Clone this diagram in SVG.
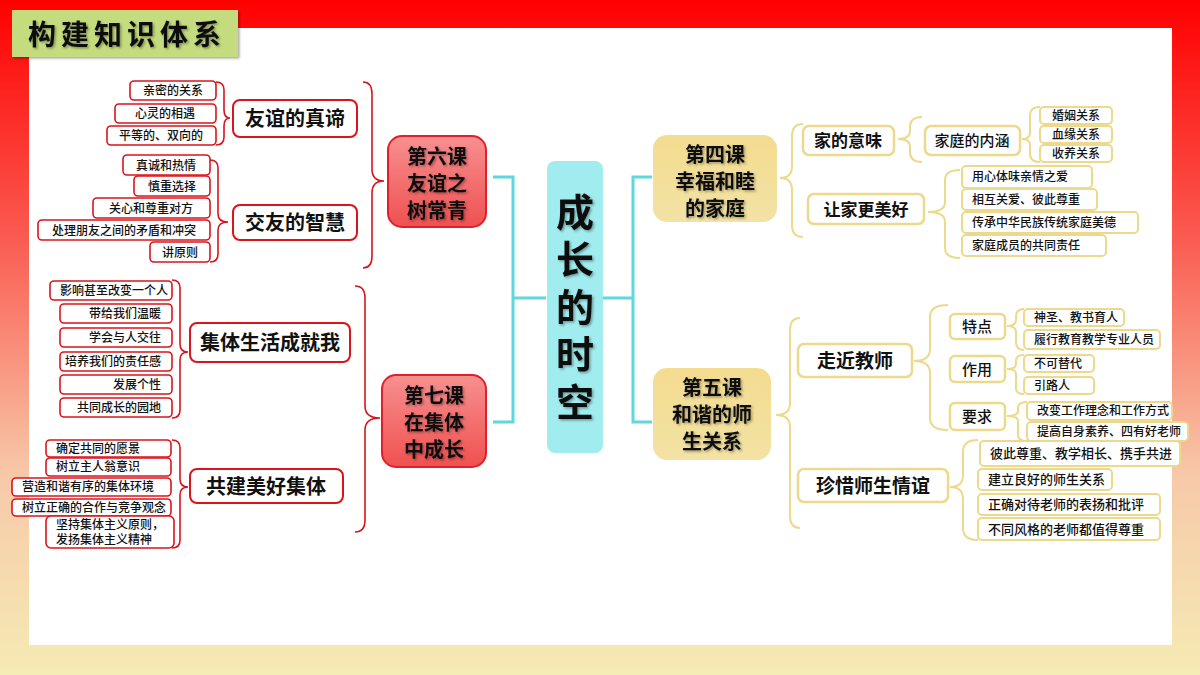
<svg xmlns="http://www.w3.org/2000/svg" width="1200" height="675" viewBox="0 0 1200 675">
<defs>
<linearGradient id="bg" x1="0" y1="0" x2="0" y2="1">
<stop offset="0" stop-color="#ff0000"/><stop offset="0.35" stop-color="#fa5a50"/><stop offset="0.7" stop-color="#f7c8a8"/><stop offset="1" stop-color="#f5ebb4"/>
</linearGradient>
<linearGradient id="redn" x1="0" y1="0" x2="0" y2="1">
<stop offset="0" stop-color="#f79090"/><stop offset="1" stop-color="#f05050"/>
</linearGradient>
<linearGradient id="yeln" x1="0" y1="0" x2="0" y2="1">
<stop offset="0" stop-color="#f4dc90"/><stop offset="1" stop-color="#f2e2a4"/>
</linearGradient>
<filter id="sh" x="-10%" y="-10%" width="130%" height="130%"><feDropShadow dx="1.5" dy="1.5" stdDeviation="0.8" flood-color="#000" flood-opacity="0.35"/></filter>
</defs>
<style>
text{font-family:"Noto Sans CJK SC","Noto Sans",sans-serif;fill:#111}
.rl{fill:#fff;stroke:#d9141c;stroke-width:1.6}
.yl{fill:#fff;stroke:#ecd98c;stroke-width:2}
.rm{fill:#fff;stroke:#d9141c;stroke-width:2}
.ym{fill:#fff;stroke:#ecd98c;stroke-width:2.5}
.rb{fill:none;stroke:#d9141c;stroke-width:1.6}
.yb{fill:none;stroke:#ecd98c;stroke-width:2}
.cy{fill:none;stroke:#5ed8dc;stroke-width:3}
.s{font-size:12px;font-weight:500}
.m{font-size:20px;font-weight:700}
.l{font-size:20px;font-weight:700}
</style>
<rect width="1200" height="675" fill="url(#bg)"/>
<rect x="29" y="28" width="1143" height="617" fill="#fff"/>
<g id="title"><rect x="12" y="10" width="226" height="47" fill="#c5dc7e" filter="url(#sh)"/><text x="127" y="45" text-anchor="middle" font-size="28" font-weight="700" letter-spacing="5" filter="url(#sh)">构建知识体系</text></g>

<g id="connectors">
<path class="cy" d="M493,177 H513 V422 H493 M513,298 H546 M603,298 H633 M652,177 H633 V422 H652"/>
<path class="rb" d="M216,82 Q224,82 224,90 L224,110 Q224,118 230,118 Q224,118 224,126 L224,137 Q224,145 216,145"/>
<path class="rb" d="M210,160 Q218,160 218,168 L218,214 Q218,222 228,222 Q218,222 218,230 L218,254 Q218,262 210,262"/>
<path class="rb" d="M363,82 Q372,82 372,94 L372,169 Q372,181 384,181 Q372,181 372,193 L372,256 Q372,268 363,268"/>
<path class="rb" d="M172,280 Q180,280 180,288 L180,344 Q180,352 188,352 Q180,352 180,360 L180,410 Q180,418 172,418"/>
<path class="rb" d="M172,440 Q180,440 180,448 L180,479 Q180,487 188,487 Q180,487 180,495 L180,540 Q180,548 172,548"/>
<path class="rb" d="M355,286 Q365,286 365,298 L365,406 Q365,418 380,418 Q365,418 365,430 L365,520 Q365,532 355,532"/>
<path class="yb" d="M803,124 Q792,124 792,136 L792,166 Q792,178 780,178 Q792,178 792,190 L792,225 Q792,237 803,237"/>
<path class="yb" d="M922,117 Q910,117 910,127 L910,131 Q910,139 898,139 Q910,139 910,147 L910,152 Q910,162 922,162"/>
<path class="yb" d="M1040,107 Q1030,107 1030,115 L1030,133 Q1030,139 1022,139 Q1030,139 1030,145 L1030,154 Q1030,162 1040,162"/>
<path class="yb" d="M960,170 Q945,170 945,180 L945,202 Q945,212 928,212 Q945,212 945,222 L945,248 Q945,258 960,258"/>
<path class="yb" d="M800,318 Q790,318 790,330 L790,403 Q790,415 776,415 Q790,415 790,427 L790,516 Q790,528 800,528"/>
<path class="yb" d="M948,305 Q930,305 930,317 L930,349 Q930,361 914,361 Q930,361 930,373 L930,418 Q930,430 948,430"/>
<path class="yb" d="M1024,309 Q1016,309 1016,317 L1016,320 Q1016,326 1007,326 Q1016,326 1016,332 L1016,342 Q1016,350 1024,350"/>
<path class="yb" d="M1024,355 Q1016,355 1016,361 L1016,364 Q1016,369 1007,369 Q1016,369 1016,374 L1016,388 Q1016,394 1024,394"/>
<path class="yb" d="M1027,402 Q1018,402 1018,408 L1018,411 Q1018,416 1007,416 Q1018,416 1018,421 L1018,435 Q1018,441 1027,441"/>
<path class="yb" d="M978,440 Q963,440 963,452 L963,475 Q963,487 950,487 Q963,487 963,499 L963,528 Q963,540 978,540"/>
</g>

<g id="center"><rect x="547" y="161" width="56" height="292" rx="8" fill="#a0ecee"/>
<g font-size="38" font-weight="700" text-anchor="middle" filter="url(#sh)"><text x="575" y="226">成</text><text x="575" y="273">长</text><text x="575" y="321">的</text><text x="575" y="368">时</text><text x="575" y="416">空</text></g></g>

<g id="l6"><rect x="388" y="136" width="98" height="91" rx="14" fill="url(#redn)" stroke="#e0202a" stroke-width="2"/>
<g text-anchor="middle" filter="url(#sh)"><text x="437" y="164" class="l">第六课</text><text x="437" y="191" class="l">友谊之</text><text x="437" y="218" class="l">树常青</text></g></g>
<g id="l7"><rect x="382" y="375" width="104" height="92" rx="14" fill="url(#redn)" stroke="#e0202a" stroke-width="2"/>
<g text-anchor="middle" filter="url(#sh)"><text x="434" y="403" class="l">第七课</text><text x="434" y="430" class="l">在集体</text><text x="434" y="457" class="l">中成长</text></g></g>
<g id="l4"><rect x="653" y="135" width="124" height="87" rx="14" fill="url(#yeln)"/>
<g text-anchor="middle" filter="url(#sh)"><text x="715" y="162" class="l">第四课</text><text x="715" y="189" class="l">幸福和睦</text><text x="715" y="216" class="l">的家庭</text></g></g>
<g id="l5"><rect x="653" y="368" width="118" height="92" rx="14" fill="url(#yeln)"/>
<g text-anchor="middle" filter="url(#sh)"><text x="712" y="395" class="l">第五课</text><text x="712" y="422" class="l">和谐的师</text><text x="712" y="449" class="l">生关系</text></g></g>

<g id="n-yy"><rect class="rm" x="233" y="100" width="124" height="37" rx="7"/><text x="295" y="126" class="m" text-anchor="middle">友谊的真谛</text></g>
<g id="n-jy"><rect class="rm" x="233" y="205" width="124" height="35" rx="7"/><text x="295" y="230" class="m" text-anchor="middle">交友的智慧</text></g>
<g id="n-jt"><rect class="rm" x="190" y="323" width="160" height="39" rx="7"/><text x="270" y="350" class="m" text-anchor="middle">集体生活成就我</text></g>
<g id="n-gj"><rect class="rm" x="190" y="469" width="153" height="34" rx="7"/><text x="266" y="494" class="m" text-anchor="middle">共建美好集体</text></g>

<g id="r-leaves" class="s">
<g id="a1"><rect class="rl" x="130" y="81" width="86" height="19" rx="4"/><text x="173" y="95" text-anchor="middle">亲密的关系</text></g>
<g id="a2"><rect class="rl" x="115" y="104" width="101" height="19" rx="4"/><text x="165" y="118" text-anchor="middle">心灵的相遇</text></g>
<g id="a3"><rect class="rl" x="107" y="126" width="109" height="19" rx="4"/><text x="161" y="140" text-anchor="middle">平等的、双向的</text></g>
<g id="b1"><rect class="rl" x="123" y="155" width="87" height="20" rx="4"/><text x="166" y="170" text-anchor="middle">真诚和热情</text></g>
<g id="b2"><rect class="rl" x="134" y="176" width="76" height="20" rx="4"/><text x="172" y="191" text-anchor="middle">慎重选择</text></g>
<g id="b3"><rect class="rl" x="93" y="198" width="117" height="20" rx="4"/><text x="151" y="213" text-anchor="middle">关心和尊重对方</text></g>
<g id="b4"><rect class="rl" x="38" y="220" width="172" height="20" rx="4"/><text x="124" y="235" text-anchor="middle">处理朋友之间的矛盾和冲突</text></g>
<g id="b5"><rect class="rl" x="150" y="242" width="60" height="20" rx="4"/><text x="180" y="257" text-anchor="middle">讲原则</text></g>
<g id="c1"><rect class="rl" x="50" y="281" width="122" height="19" rx="4"/><text x="60" y="295">影响甚至改变一个人</text></g>
<g id="c2"><rect class="rl" x="60" y="304" width="112" height="19" rx="4"/><text x="161" y="318" text-anchor="end">带给我们温暖</text></g>
<g id="c3"><rect class="rl" x="60" y="328" width="112" height="19" rx="4"/><text x="161" y="342" text-anchor="end">学会与人交往</text></g>
<g id="c4"><rect class="rl" x="60" y="352" width="112" height="19" rx="4"/><text x="161" y="366" text-anchor="end">培养我们的责任感</text></g>
<g id="c5"><rect class="rl" x="60" y="375" width="112" height="19" rx="4"/><text x="161" y="389" text-anchor="end">发展个性</text></g>
<g id="c6"><rect class="rl" x="60" y="398" width="112" height="19" rx="4"/><text x="161" y="412" text-anchor="end">共同成长的园地</text></g>
<g id="d1"><rect class="rl" x="46" y="440" width="125" height="17" rx="4"/><text x="56" y="453">确定共同的愿景</text></g>
<g id="d2"><rect class="rl" x="46" y="458" width="125" height="18" rx="4"/><text x="56" y="471">树立主人翁意识</text></g>
<g id="d3"><rect class="rl" x="12" y="478" width="159" height="18" rx="4"/><text x="22" y="491">营造和谐有序的集体环境</text></g>
<g id="d4"><rect class="rl" x="12" y="499" width="159" height="17" rx="4"/><text x="22" y="512">树立正确的合作与竞争观念</text></g>
<g id="d5"><rect class="rl" x="46" y="516" width="128" height="32" rx="5"/><text x="56" y="529">坚持集体主义原则，</text><text x="56" y="544">发扬集体主义精神</text></g>
</g>

<g id="n-jw"><rect class="ym" x="803" y="126" width="91" height="29" rx="6"/><text x="848" y="147" class="m" text-anchor="middle" style="font-size:17px">家的意味</text></g>
<g id="n-nh"><rect class="ym" x="925" y="126" width="95" height="29" rx="6"/><text x="972" y="146" font-size="15" font-weight="500" text-anchor="middle">家庭的内涵</text></g>
<g id="n-rj"><rect class="ym" x="808" y="194" width="116" height="30" rx="6"/><text x="866" y="216" class="m" text-anchor="middle" style="font-size:17px">让家更美好</text></g>
<g id="n-zj"><rect class="ym" x="798" y="344" width="114" height="33" rx="6"/><text x="855" y="368" class="m" text-anchor="middle" style="font-size:19px">走近教师</text></g>
<g id="n-zx"><rect class="ym" x="798" y="469" width="150" height="33" rx="6"/><text x="873" y="493" class="m" text-anchor="middle" style="font-size:19px">珍惜师生情谊</text></g>
<g id="n-td"><rect class="ym" x="950" y="314" width="55" height="25" rx="5"/><text x="977" y="332" font-size="15" font-weight="500" text-anchor="middle">特点</text></g>
<g id="n-zy"><rect class="ym" x="950" y="356" width="55" height="26" rx="5"/><text x="977" y="375" font-size="15" font-weight="500" text-anchor="middle">作用</text></g>
<g id="n-yq"><rect class="ym" x="950" y="403" width="55" height="27" rx="5"/><text x="977" y="422" font-size="15" font-weight="500" text-anchor="middle">要求</text></g>

<g id="y-leaves" class="s">
<g id="e1"><rect class="yl" x="1040" y="107" width="72" height="17" rx="4"/><text x="1076" y="120" text-anchor="middle">婚姻关系</text></g>
<g id="e2"><rect class="yl" x="1040" y="126" width="72" height="17" rx="4"/><text x="1076" y="139" text-anchor="middle">血缘关系</text></g>
<g id="e3"><rect class="yl" x="1040" y="145" width="72" height="17" rx="4"/><text x="1076" y="158" text-anchor="middle">收养关系</text></g>
<g id="f1"><rect class="yl" x="962" y="166" width="130" height="22" rx="4"/><text x="972" y="181">用心体味亲情之爱</text></g>
<g id="f2"><rect class="yl" x="962" y="189" width="135" height="21" rx="4"/><text x="972" y="204">相互关爱、彼此尊重</text></g>
<g id="f3"><rect class="yl" x="962" y="212" width="176" height="21" rx="4"/><text x="972" y="227">传承中华民族传统家庭美德</text></g>
<g id="f4"><rect class="yl" x="962" y="235" width="144" height="21" rx="4"/><text x="972" y="250">家庭成员的共同责任</text></g>
<g id="g1"><rect class="yl" x="1024" y="309" width="100" height="17" rx="4"/><text x="1034" y="322">神圣、教书育人</text></g>
<g id="g2"><rect class="yl" x="1024" y="330" width="136" height="19" rx="4"/><text x="1034" y="344">履行教育教学专业人员</text></g>
<g id="g3"><rect class="yl" x="1024" y="355" width="70" height="17" rx="4"/><text x="1034" y="368">不可替代</text></g>
<g id="g4"><rect class="yl" x="1024" y="377" width="70" height="17" rx="4"/><text x="1034" y="390">引路人</text></g>
<g id="g5"><rect class="yl" x="1027" y="402" width="145" height="18" rx="4"/><text x="1037" y="415">改变工作理念和工作方式</text></g>
<g id="g6"><rect class="yl" x="1027" y="422" width="161" height="19" rx="4"/><text x="1037" y="436">提高自身素养、四有好老师</text></g>
<g id="h1"><rect class="yl" x="980" y="441" width="200" height="25" rx="4"/><text x="990" y="458" style="font-size:13px">彼此尊重、教学相长、携手共进</text></g>
<g id="h2"><rect class="yl" x="978" y="469" width="134" height="21" rx="4"/><text x="988" y="484" style="font-size:13px">建立良好的师生关系</text></g>
<g id="h3"><rect class="yl" x="978" y="494" width="182" height="21" rx="4"/><text x="988" y="509" style="font-size:13px">正确对待老师的表扬和批评</text></g>
<g id="h4"><rect class="yl" x="978" y="518" width="182" height="22" rx="4"/><text x="988" y="534" style="font-size:13px">不同风格的老师都值得尊重</text></g>
</g>
</svg>
